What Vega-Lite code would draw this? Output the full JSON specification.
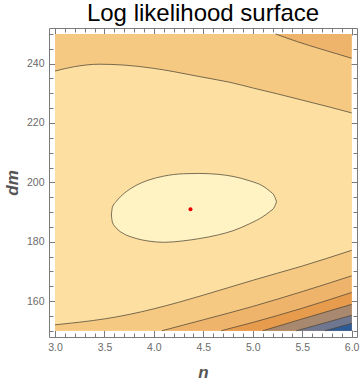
{
  "$schema": "https://vega.github.io/schema/vega-lite/v6.json",
  "width": 308,
  "height": 309,
  "autosize": {"type": "none"},
  "padding": {"left": 49, "top": 28, "right": 3, "bottom": 44},
  "background": "white",
  "config": {
    "view": {"stroke": "#7a7a7a", "strokeWidth": 1},
    "axis": {
      "domain": false,
      "grid": false,
      "tickColor": "#7a7a7a",
      "tickWidth": 1,
      "labelFont": "Liberation Sans",
      "labelFontSize": 10.5,
      "labelColor": "#6b6b6b",
      "labelFlush": false,
      "labelOverlap": false,
      "titleFont": "Liberation Sans",
      "titleFontSize": 17,
      "titleFontWeight": "bold",
      "titleFontStyle": "italic",
      "titleColor": "#555555"
    }
  },
  "title": {
    "text": "Log likelihood surface",
    "font": "Liberation Sans",
    "fontSize": 24,
    "fontWeight": "normal",
    "color": "black",
    "anchor": "middle",
    "baseline": "alphabetic",
    "offset": 8,
    "dy": 25
  },
  "datasets": {
    "region": [{"n0": 3.0, "n1": 6.0, "d0": 150, "d1": 250}],
    "contours": [
      {"c": "A", "n": 5.23, "dm": 250}, {"c": "A", "n": 5.45, "dm": 247.4}, {"c": "A", "n": 5.7, "dm": 244.8}, {"c": "A", "n": 6.0, "dm": 241.8},
      {"c": "B", "n": 3.0, "dm": 237.5}, {"c": "B", "n": 3.2, "dm": 239.0}, {"c": "B", "n": 3.45, "dm": 239.8}, {"c": "B", "n": 3.7, "dm": 239.5}, {"c": "B", "n": 4.0, "dm": 238.4}, {"c": "B", "n": 4.2, "dm": 237.3}, {"c": "B", "n": 4.45, "dm": 235.7}, {"c": "B", "n": 4.63, "dm": 234.6}, {"c": "B", "n": 4.77, "dm": 233.7}, {"c": "B", "n": 5.0, "dm": 231.8}, {"c": "B", "n": 5.25, "dm": 229.8}, {"c": "B", "n": 5.5, "dm": 227.7}, {"c": "B", "n": 5.75, "dm": 225.6}, {"c": "B", "n": 6.0, "dm": 223.4},
      {"c": "C", "n": 3.0, "dm": 152.0}, {"c": "C", "n": 3.25, "dm": 152.9}, {"c": "C", "n": 3.5, "dm": 154.0}, {"c": "C", "n": 3.75, "dm": 155.5}, {"c": "C", "n": 4.0, "dm": 157.4}, {"c": "C", "n": 4.25, "dm": 159.6}, {"c": "C", "n": 4.5, "dm": 162.0}, {"c": "C", "n": 4.75, "dm": 164.5}, {"c": "C", "n": 5.0, "dm": 167.0}, {"c": "C", "n": 5.25, "dm": 169.4}, {"c": "C", "n": 5.5, "dm": 171.8}, {"c": "C", "n": 5.75, "dm": 174.4}, {"c": "C", "n": 6.0, "dm": 177.1},
      {"c": "D", "n": 4.08, "dm": 150}, {"c": "D", "n": 4.5, "dm": 153.7}, {"c": "D", "n": 5.0, "dm": 158.2}, {"c": "D", "n": 5.5, "dm": 163.2}, {"c": "D", "n": 6.0, "dm": 168.5},
      {"c": "E", "n": 4.68, "dm": 150}, {"c": "E", "n": 5.0, "dm": 152.8}, {"c": "E", "n": 5.5, "dm": 157.6}, {"c": "E", "n": 6.0, "dm": 162.9},
      {"c": "F", "n": 5.1, "dm": 150}, {"c": "F", "n": 5.5, "dm": 154.0}, {"c": "F", "n": 6.0, "dm": 158.9},
      {"c": "G", "n": 5.44, "dm": 150}, {"c": "G", "n": 5.7, "dm": 152.4}, {"c": "G", "n": 6.0, "dm": 155.2},
      {"c": "H", "n": 5.73, "dm": 150}, {"c": "H", "n": 6.0, "dm": 152.5}
    ],
    "ellipse": [
      {"n": 3.57, "hi": 189.0, "lo": 189.0},
      {"n": 3.58, "hi": 191.6, "lo": 186.6},
      {"n": 3.62, "hi": 193.6, "lo": 184.6},
      {"n": 3.7, "hi": 196.3, "lo": 182.6},
      {"n": 3.8, "hi": 198.6, "lo": 181.3},
      {"n": 3.95, "hi": 200.8, "lo": 180.2},
      {"n": 4.1, "hi": 202.1, "lo": 179.8},
      {"n": 4.3, "hi": 202.9, "lo": 180.3},
      {"n": 4.45, "hi": 203.0, "lo": 181.0},
      {"n": 4.65, "hi": 202.7, "lo": 182.3},
      {"n": 4.8, "hi": 202.0, "lo": 183.7},
      {"n": 4.97, "hi": 200.5, "lo": 186.1},
      {"n": 5.1, "hi": 198.8, "lo": 188.4},
      {"n": 5.17, "hi": 197.1, "lo": 190.1},
      {"n": 5.22, "hi": 195.3, "lo": 191.8},
      {"n": 5.24, "hi": 193.5, "lo": 193.5}
    ],
    "best": [{"n": 4.37, "dm": 190.9}]
  },
  "resolve": {"axis": {"x": "independent", "y": "independent"}},
  "layer": [
    {
      "data": {"name": "region"},
      "mark": {"type": "rect", "fill": "#F6C983"},
      "encoding": {
        "x": {
          "field": "n0", "type": "quantitative",
          "scale": {"domain": [2.939, 6.054], "nice": false, "zero": false},
          "axis": {
            "orient": "bottom",
            "values": [3.0, 3.5, 4.0, 4.5, 5.0, 5.5, 6.0],
            "format": ".1f",
            "tickSize": -7,
            "labelPadding": 12,
            "title": "n",
            "titleY": 35,
            "titleBaseline": "middle"
          }
        },
        "x2": {"field": "n1"},
        "y": {
          "field": "d0", "type": "quantitative",
          "scale": {"domain": [147.9, 252.0], "nice": false, "zero": false},
          "axis": {
            "orient": "left",
            "values": [160, 180, 200, 220, 240],
            "tickSize": -7,
            "labelPadding": 12,
            "title": "dm",
            "titleX": -37,
            "titleBaseline": "middle"
          }
        },
        "y2": {"field": "d1"}
      }
    },
    {
      "data": {"name": "contours"},
      "transform": [{"filter": "datum.c === 'A'"}],
      "mark": {"type": "area", "interpolate": "monotone", "fill": "#EFB46B"},
      "encoding": {
        "x": {
          "field": "n", "type": "quantitative",
          "axis": {
            "orient": "bottom",
            "values": [3.1, 3.2, 3.3, 3.4, 3.6, 3.7, 3.8, 3.9, 4.1, 4.2, 4.3, 4.4, 4.6, 4.7, 4.8, 4.9, 5.1, 5.2, 5.3, 5.4, 5.6, 5.7, 5.8, 5.9],
            "tickSize": -4,
            "labels": false,
            "title": null
          }
        },
        "y": {
          "field": "dm", "type": "quantitative", "stack": null,
          "axis": {
            "orient": "left",
            "values": [150, 155, 165, 170, 175, 185, 190, 195, 205, 210, 215, 225, 230, 235, 245, 250],
            "tickSize": -4,
            "labels": false,
            "title": null
          }
        },
        "y2": {"datum": 250}
      }
    },
    {
      "data": {"name": "contours"},
      "transform": [{"filter": "datum.c !== 'A'"}],
      "mark": {"type": "area", "interpolate": "monotone"},
      "encoding": {
        "x": {
          "field": "n", "type": "quantitative",
          "axis": {
            "orient": "top",
            "values": [3.0, 3.5, 4.0, 4.5, 5.0, 5.5, 6.0],
            "tickSize": -7,
            "labels": false,
            "title": null
          }
        },
        "y": {
          "field": "dm", "type": "quantitative", "stack": null,
          "axis": {
            "orient": "right",
            "values": [160, 180, 200, 220, 240],
            "tickSize": -7,
            "labels": false,
            "title": null
          }
        },
        "y2": {"datum": 150},
        "fill": {
          "field": "c", "type": "nominal", "legend": null,
          "scale": {"domain": ["B", "C", "D", "E", "F", "G", "H"], "range": ["#FDE0A1", "#F6C983", "#EFB46B", "#E79C4D", "#A8896F", "#6F7690", "#2D5B95"]}
        }
      }
    },
    {
      "data": {"name": "contours"},
      "mark": {"type": "line", "interpolate": "monotone", "stroke": "#4d4535", "strokeOpacity": 0.75, "strokeWidth": 1},
      "encoding": {
        "x": {
          "field": "n", "type": "quantitative",
          "axis": {
            "orient": "top",
            "values": [3.1, 3.2, 3.3, 3.4, 3.6, 3.7, 3.8, 3.9, 4.1, 4.2, 4.3, 4.4, 4.6, 4.7, 4.8, 4.9, 5.1, 5.2, 5.3, 5.4, 5.6, 5.7, 5.8, 5.9],
            "tickSize": -4,
            "labels": false,
            "title": null
          }
        },
        "y": {
          "field": "dm", "type": "quantitative",
          "axis": {
            "orient": "right",
            "values": [150, 155, 165, 170, 175, 185, 190, 195, 205, 210, 215, 225, 230, 235, 245, 250],
            "tickSize": -4,
            "labels": false,
            "title": null
          }
        },
        "detail": {"field": "c", "type": "nominal"}
      }
    },
    {
      "data": {"name": "ellipse"},
      "mark": {"type": "area", "interpolate": "monotone", "fill": "#FFF3C4", "stroke": "#4d4535", "strokeOpacity": 0.75, "strokeWidth": 1},
      "encoding": {
        "x": {"field": "n", "type": "quantitative", "axis": null},
        "y": {"field": "hi", "type": "quantitative", "axis": null, "stack": null},
        "y2": {"field": "lo"}
      }
    },
    {
      "data": {"name": "best"},
      "mark": {"type": "point", "filled": true, "fill": "#EE0000", "opacity": 1, "size": 16},
      "encoding": {
        "x": {"field": "n", "type": "quantitative", "axis": null},
        "y": {"field": "dm", "type": "quantitative", "axis": null}
      }
    }
  ]
}
